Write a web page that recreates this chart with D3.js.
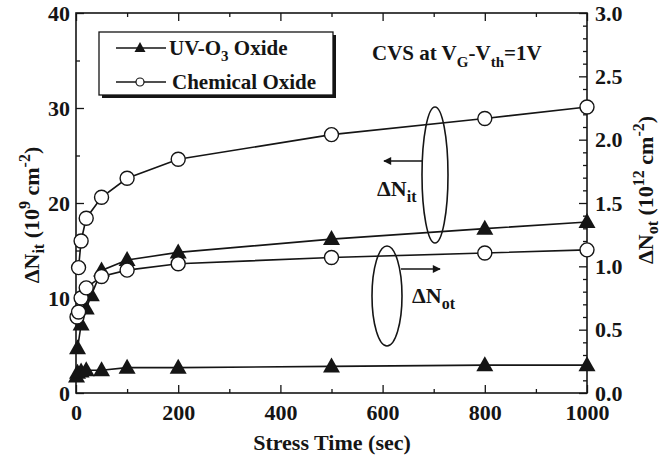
<!DOCTYPE html>
<html><head><meta charset="utf-8">
<script src="https://cdn.jsdelivr.net/npm/d3@7"></script>
<style>
body{margin:0;background:#fff}
</style>
</head><body>
<svg id="c" width="663" height="457" font-family="Liberation Serif, Times New Roman, DejaVu Serif, serif" font-weight="bold"></svg>
<script>
// ---- data ----
const xTicks = [0, 200, 400, 600, 800, 1000];
const xMinor = [100, 300, 500, 700, 900];
const leftTicks = [0, 10, 20, 30, 40];
const leftMinor = [5, 15, 25, 35];
const rightTicks = [0.0, 0.5, 1.0, 1.5, 2.0, 2.5, 3.0];

// Chemical oxide, ΔNit (left axis)
const chemNitT = [5, 10, 20, 50, 100, 200, 500, 800, 1000];
const chemNit  = [13.2, 16.0, 18.4, 20.6, 22.6, 24.6, 27.2, 28.9, 30.1];
// UV-O3 oxide, ΔNit (left axis)
const uvNitT = [3, 10, 20, 30, 50, 100, 200, 500, 800, 1000];
const uvNit  = [4.7, 7.2, 8.9, 10.3, 12.9, 14.0, 14.8, 16.2, 17.3, 18.0];
// Chemical oxide, ΔNot (right axis)
const chemNotT = [2, 5, 10, 20, 50, 100, 200, 500, 800, 1000];
const chemNot  = [0.60, 0.64, 0.75, 0.83, 0.92, 0.97, 1.02, 1.07, 1.105, 1.13];
// UV-O3 oxide, ΔNot (right axis)
const uvNotT = [1, 3, 10, 20, 50, 100, 200, 500, 800, 1000];
const uvNot  = [0.13, 0.16, 0.17, 0.18, 0.18, 0.20, 0.20, 0.21, 0.22, 0.22];

// ---- layout ----
const FONT = "'Liberation Serif','Times New Roman','DejaVu Serif',serif";
const INK = "#151515";
const svg = d3.select("#c");
const L = 76, R = 587, T = 13, B = 393;
const x = d3.scaleLinear().domain([0, 1000]).range([L, R]);
const yL = d3.scaleLinear().domain([0, 40]).range([B, T]);
const yR = d3.scaleLinear().domain([0, 3]).range([B, T]);

svg.append("rect").attr("width", 663).attr("height", 457).attr("fill", "#fff");

function txt(sel, size) {
  return sel.style("font-family", FONT).style("font-weight", "bold").style("font-size", size + "px").attr("fill", INK);
}

function styleAxis(g) {
  g.attr("font-family", null).attr("font-size", null);
  g.selectAll(".domain").remove();
  g.selectAll("line").attr("stroke", INK).attr("stroke-width", 1.3);
  txt(g.selectAll("text"), 22);
}

// bottom axis
svg.append("g").attr("transform", `translate(0,${B})`)
  .call(d3.axisBottom(x).tickValues(xTicks).tickSize(-8).tickPadding(11).tickFormat(d3.format("d")))
  .call(styleAxis);
svg.append("g").attr("transform", `translate(0,${B})`)
  .call(d3.axisBottom(x).tickValues(xMinor).tickSize(-4).tickFormat(""))
  .call(styleAxis);
// top mirrored ticks
svg.append("g").attr("transform", `translate(0,${T})`)
  .call(d3.axisTop(x).tickValues(xTicks).tickSize(-8).tickFormat(""))
  .call(styleAxis);
svg.append("g").attr("transform", `translate(0,${T})`)
  .call(d3.axisTop(x).tickValues(xMinor).tickSize(-4).tickFormat(""))
  .call(styleAxis);
// left axis
svg.append("g").attr("transform", `translate(${L},0)`)
  .call(d3.axisLeft(yL).tickValues(leftTicks).tickSize(-8).tickPadding(6).tickFormat(d3.format("d")))
  .call(styleAxis);
svg.append("g").attr("transform", `translate(${L},0)`)
  .call(d3.axisLeft(yL).tickValues(leftMinor).tickSize(-4).tickFormat(""))
  .call(styleAxis);
// right axis
svg.append("g").attr("transform", `translate(${R},0)`)
  .call(d3.axisRight(yR).tickValues(rightTicks).tickSize(-8).tickPadding(8).tickFormat(d3.format(".1f")))
  .call(styleAxis);
svg.append("g").attr("transform", `translate(${R},0)`)
  .call(d3.axisRight(yR).tickValues(d3.range(0, 31).map(d => d / 10).filter(d => Math.round(d * 10) % 5 !== 0)).tickSize(-4).tickFormat(""))
  .call(styleAxis);

// frame
svg.append("rect").attr("x", L).attr("y", T).attr("width", R - L).attr("height", B - T)
  .attr("fill", "none").attr("stroke", INK).attr("stroke-width", 1.6);

// ---- series ----
const triPath = (w, h) => `M0,${-h * 0.6}L${w / 2},${h * 0.4}L${-w / 2},${h * 0.4}Z`;
const series = [
  { t: chemNitT, v: chemNit, y: yL, m: "circle" },
  { t: uvNitT, v: uvNit, y: yL, m: "tri" },
  { t: chemNotT, v: chemNot, y: yR, m: "circle" },
  { t: uvNotT, v: uvNot, y: yR, m: "tri" }
];
const lg = svg.append("g"), mg = svg.append("g");
series.forEach(s => {
  const pts = s.t.map((t, i) => [x(t), s.y(s.v[i])]);
  lg.append("path").attr("d", d3.line()(pts)).attr("fill", "none")
    .attr("stroke", INK).attr("stroke-width", 1.6);
  pts.forEach(p => {
    if (s.m === "circle") {
      mg.append("circle").attr("cx", p[0]).attr("cy", p[1]).attr("r", 7)
        .attr("fill", "#fff").attr("stroke", INK).attr("stroke-width", 1.4);
    } else {
      mg.append("path").attr("d", triPath(17, 15)).attr("transform", `translate(${p[0]},${p[1]})`)
        .attr("fill", INK);
    }
  });
});

// ---- legend ----
const lx0 = 99, ly0 = 32, lw = 234, lh = 63;
svg.append("rect").attr("x", lx0 + 3).attr("y", ly0 + 3).attr("width", lw).attr("height", lh).attr("fill", INK);
svg.append("rect").attr("x", lx0).attr("y", ly0).attr("width", lw).attr("height", lh)
  .attr("fill", "#fff").attr("stroke", INK).attr("stroke-width", 1.3);
const legRows = [{ y: 48, m: "tri" }, { y: 82, m: "circle" }];
legRows.forEach(r => {
  svg.append("line").attr("x1", 116).attr("x2", 166).attr("y1", r.y).attr("y2", r.y)
    .attr("stroke", INK).attr("stroke-width", 1.6);
  if (r.m === "tri") svg.append("path").attr("d", triPath(11, 10)).attr("transform", `translate(140,${r.y})`).attr("fill", INK);
  else svg.append("circle").attr("cx", 140).attr("cy", r.y).attr("r", 4).attr("fill", "#fff").attr("stroke", INK).attr("stroke-width", 1.2);
});
const t1 = txt(svg.append("text").attr("x", 169).attr("y", 55), 21);
t1.append("tspan").text("UV-O");
t1.append("tspan").text("3").attr("dy", 6).style("font-size", "15px");
t1.append("tspan").text(" Oxide").attr("dy", -6);
txt(svg.append("text").attr("x", 172).attr("y", 89), 21).text("Chemical Oxide");

// ---- annotations ----
const cvs = txt(svg.append("text").attr("x", 372).attr("y", 60), 21);
cvs.append("tspan").text("CVS at V");
cvs.append("tspan").text("G").attr("dy", 7).style("font-size", "15px");
cvs.append("tspan").text("-V").attr("dy", -7);
cvs.append("tspan").text("th").attr("dy", 7).style("font-size", "15px");
cvs.append("tspan").text("=1V").attr("dy", -7);

const defs = svg.append("defs");
defs.append("marker").attr("id", "ah").attr("viewBox", "0 0 10 10").attr("refX", 9).attr("refY", 5)
  .attr("markerWidth", 7).attr("markerHeight", 5).attr("orient", "auto")
  .append("path").attr("d", "M0,0L10,5L0,10Z").attr("fill", INK);

svg.append("ellipse").attr("cx", 435).attr("cy", 175).attr("rx", 13).attr("ry", 68)
  .attr("fill", "none").attr("stroke", INK).attr("stroke-width", 1.6);
svg.append("line").attr("x1", 422).attr("y1", 161).attr("x2", 384).attr("y2", 161)
  .attr("stroke", INK).attr("stroke-width", 1.6).attr("marker-end", "url(#ah)");
const nit = txt(svg.append("text").attr("x", 377).attr("y", 196), 22);
nit.append("tspan").text("ΔN");
nit.append("tspan").text("it").attr("dy", 6).style("font-size", "16px");

svg.append("ellipse").attr("cx", 387).attr("cy", 296).attr("rx", 15).attr("ry", 50)
  .attr("fill", "none").attr("stroke", INK).attr("stroke-width", 1.6);
svg.append("line").attr("x1", 401).attr("y1", 269).attr("x2", 440).attr("y2", 269)
  .attr("stroke", INK).attr("stroke-width", 1.6).attr("marker-end", "url(#ah)");
const nott = txt(svg.append("text").attr("x", 412).attr("y", 303), 22);
nott.append("tspan").text("ΔN");
nott.append("tspan").text("ot").attr("dy", 6).style("font-size", "16px");

// ---- axis titles ----
txt(svg.append("text").attr("x", 332).attr("y", 450).attr("text-anchor", "middle"), 22).text("Stress Time (sec)");

function yTitle(xp, yp, sub, exp) {
  const t = txt(svg.append("text").attr("transform", `translate(${xp},${yp}) rotate(-90)`)
    .attr("text-anchor", "middle"), 22);
  t.append("tspan").text("ΔN");
  t.append("tspan").text(sub).attr("dy", 5).style("font-size", "16px");
  t.append("tspan").text(" (10").attr("dy", -5);
  t.append("tspan").text(exp).attr("dy", -9).style("font-size", "16px");
  t.append("tspan").text(" cm").attr("dy", 9);
  t.append("tspan").text("-2").attr("dy", -9).style("font-size", "16px");
  t.append("tspan").text(")").attr("dy", 9);
}
yTitle(39, 215, "it", "9");
yTitle(653, 190, "ot", "12");
</script>
</body></html>
